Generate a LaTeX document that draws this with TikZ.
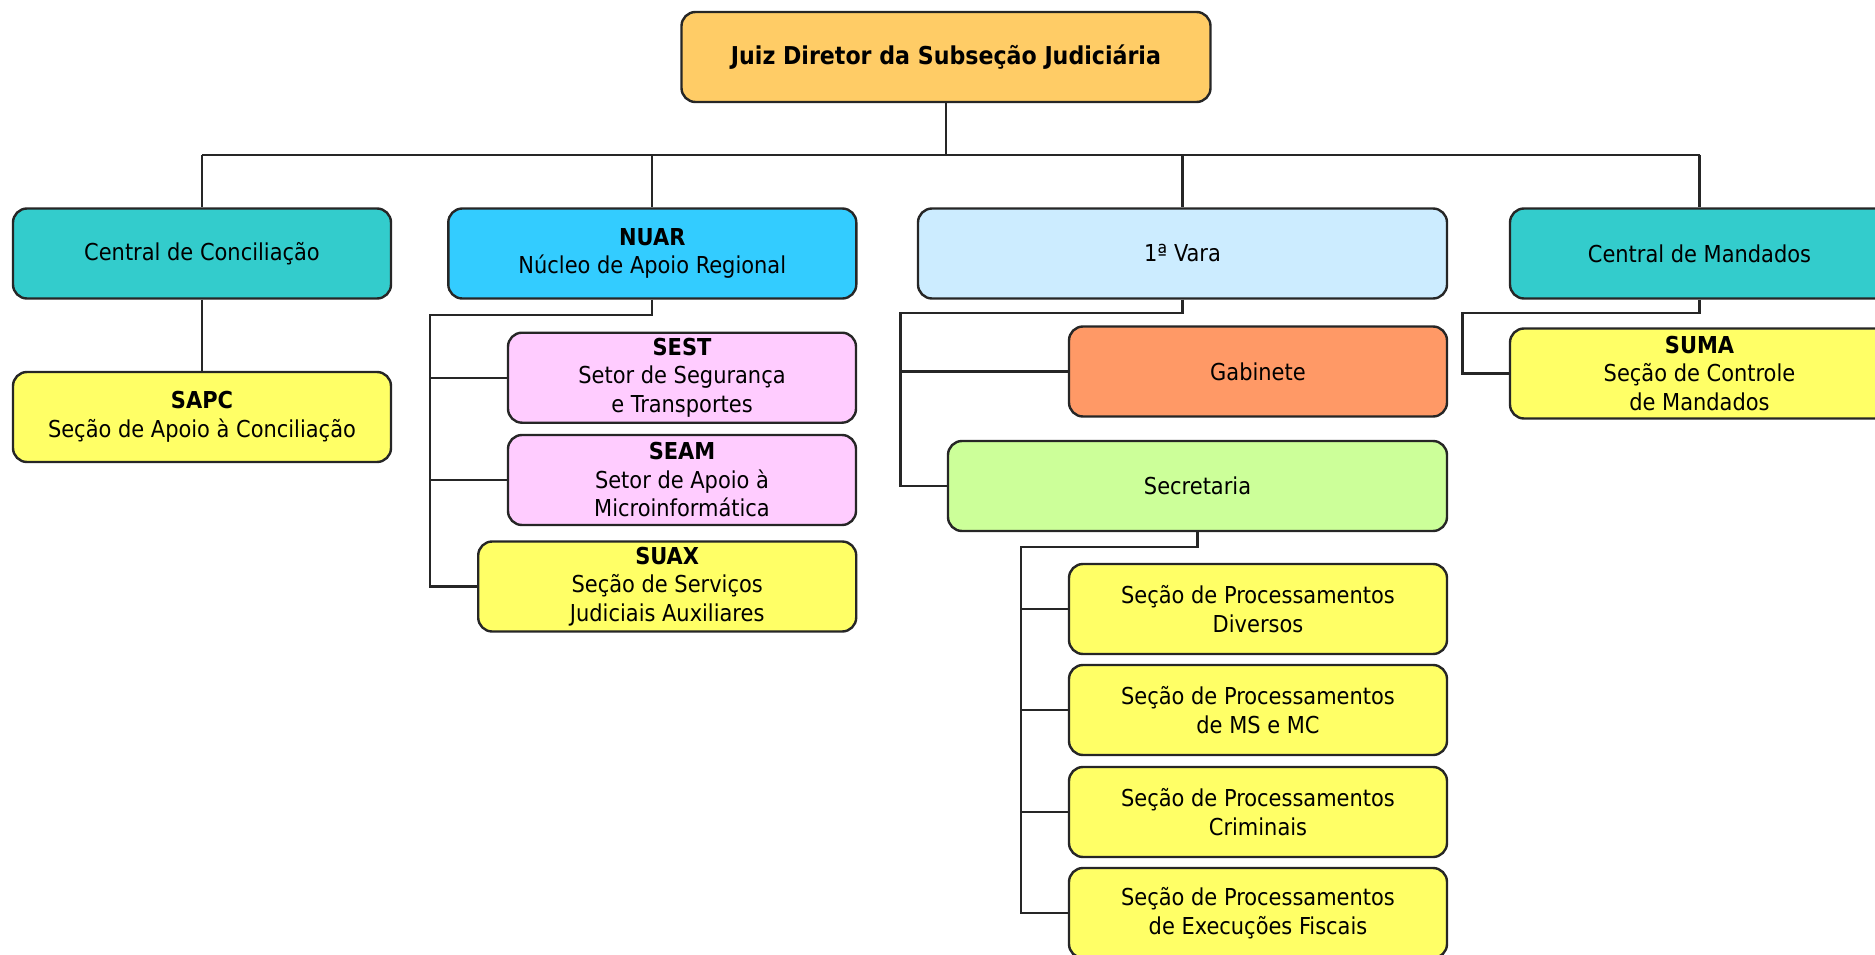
\documentclass[tikz,border=0pt]{standalone}
\usepackage{fontspec}
\setmainfont{DejaVu Sans Condensed}
\usepackage{tikz}

\definecolor{laranja}{HTML}{FFCC66}
\definecolor{turquesa}{HTML}{33CCCC}
\definecolor{azul}{HTML}{33CCFF}
\definecolor{azulclaro}{HTML}{CCECFF}
\definecolor{salmao}{HTML}{FF9966}
\definecolor{verde}{HTML}{CCFF99}
\definecolor{amarelo}{HTML}{FFFF66}
\definecolor{rosa}{HTML}{FFCCFF}

\begin{document}
\begin{tikzpicture}[x=1pt,y=-1pt,
    box/.style={draw=black!85,line width=2.4pt,rounded corners=14pt,align=center,
      minimum height=90pt,inner sep=2pt,font=\fontsize{23.3}{28.5}\selectfont},
    conn/.style={line width=2.2pt,black!85}]
    \useasboundingbox (0,0) rectangle (1875,955);
    \clip (0,0) rectangle (1875,955);
    % nivel 0 e 1
    \node[box,fill=laranja,minimum width=529pt,font=\fontsize{24.6}{28.5}\selectfont] (dir) at (946,57) {\textbf{Juiz Diretor da Subseção Judiciária}};
    \node[box,fill=turquesa,minimum width=378pt] (conc) at (202,253.5) {Central de Conciliação};
    \node[box,fill=azul,minimum width=408pt] (nuar) at (652.3,253.5) {\textbf{NUAR}\\Núcleo de Apoio Regional};
    \node[box,fill=azulclaro,minimum width=529pt] (vara) at (1182.5,253.5) {1ª Vara};
    \node[box,fill=turquesa,minimum width=379pt] (mand) at (1699.5,253.5) {Central de Mandados};
    % nivel 2
    \node[box,fill=amarelo,minimum width=378pt] (sapc) at (202,417) {\textbf{SAPC}\\Seção de Apoio à Conciliação};
    \node[box,fill=rosa,minimum width=348pt] (sest) at (682,377.7) {\textbf{SEST}\\Setor de Segurança\\e Transportes};
    \node[box,fill=rosa,minimum width=348pt] (seam) at (682,480) {\textbf{SEAM}\\Setor de Apoio à\\Microinformática};
    \node[box,fill=amarelo,minimum width=378pt] (suax) at (667.2,586.5) {\textbf{SUAX}\\Seção de Serviços\\Judiciais Auxiliares};
    \node[box,fill=salmao,minimum width=378pt] (gab) at (1258,371.5) {Gabinete};
    \node[box,fill=verde,minimum width=499pt] (sec) at (1197.5,486) {Secretaria};
    \node[box,fill=amarelo,minimum width=379pt] (suma) at (1699.5,373.5) {\textbf{SUMA}\\Seção de Controle\\de Mandados};
    \foreach \i/\y/\txt in {1/609/Diversos, 2/710/de MS e MC, 3/812/Criminais, 4/913/de Execuções Fiscais} {
      \node[box,fill=amarelo,minimum width=378pt] (proc\i) at (1258,\y) {Seção de Processamentos\\\txt};
    }
    % ligacoes
    \coordinate (topo) at (946,155);
    \draw[conn] (dir.south) -- (topo);
    \draw[conn] (topo -| conc.north) -- (topo -| mand.north);
    \foreach \n in {conc,nuar,vara,mand} {
      \draw[conn] (topo -| \n.north) -- (\n.north);
    }
    \draw[conn] (conc.south) -- (sapc.north);
    \coordinate (bnuar) at (430,315);
    \draw[conn] (nuar.south) |- (bnuar) |- (suax.west);
    \draw[conn] (bnuar |- sest.west) -- (sest.west);
    \draw[conn] (bnuar |- seam.west) -- (seam.west);
    \coordinate (bvara) at (900.5,313);
    \draw[conn] (vara.south) |- (bvara) |- (sec.west);
    \draw[conn] (bvara |- gab.west) -- (gab.west);
    \coordinate (bsec) at (1021,547);
    \draw[conn] (sec.south) |- (bsec) |- (proc4.west);
    \foreach \i in {1,2,3} {
      \draw[conn] (bsec |- proc\i.west) -- (proc\i.west);
    }
    \coordinate (bmand) at (1462.5,313);
    \draw[conn] (mand.south) |- (bmand) |- (suma.west);
\end{tikzpicture}
\end{document}
